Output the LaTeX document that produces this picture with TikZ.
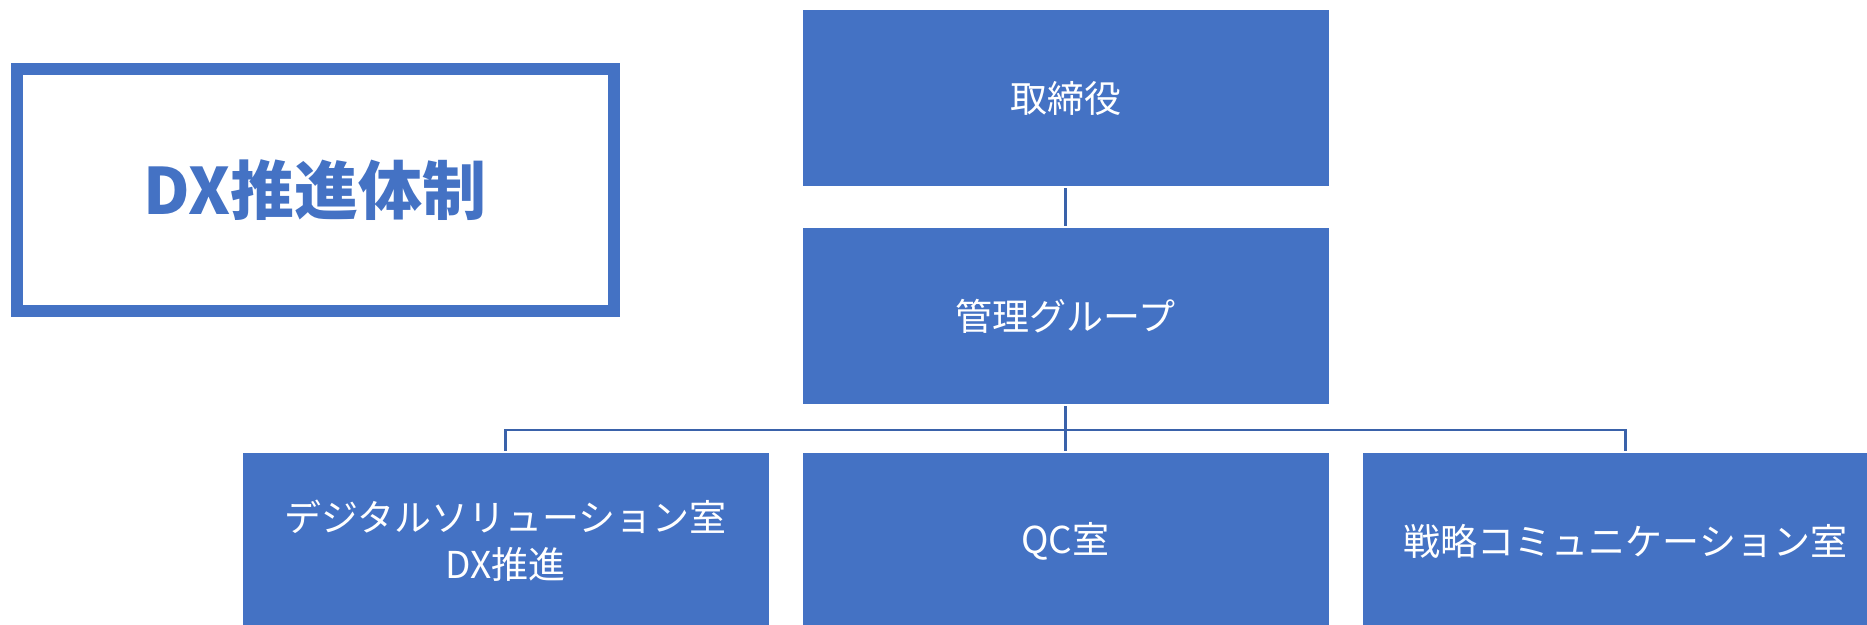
\documentclass[tikz,border=0pt]{standalone}
\usepackage{fontspec}
\newfontfamily\jpfont{Noto Sans CJK JP}
\usetikzlibrary{positioning}
\definecolor{boxblue}{HTML}{4472C4}
\definecolor{lineblue}{HTML}{3A62AA}

\begin{document}
\begin{tikzpicture}[x=1pt,y=-1pt,
  unit/.style = {fill=boxblue, text=white, minimum width=526pt, minimum height=176pt, inner sep=0pt, align=center, font=\jpfont\fontsize{37}{47}\selectfont},
  link/.style = {draw=lineblue, line width=2.5pt, shorten <=2pt, shorten >=2pt},
  node distance={218pt}]
\useasboundingbox (0,0) rectangle (1867,624);
\clip (0,0) rectangle (1867,624);
\node[draw=boxblue, line width=12pt, minimum width=597pt, minimum height=242pt, text=boxblue, font=\jpfont\bfseries\fontsize{64}{66}\selectfont] (title) at (315,190) {DX推進体制};
\node[unit] (board) at (1065.5,98) {取締役};
\node[unit] (mgmt) [below of=board] {管理グループ};
\node[unit] (qc) [below of=mgmt, node distance=225pt] {QC室};
\node[unit] (dsr) [left of=qc, node distance=560pt] {デジタルソリューション室\\DX推進};
\node[unit] (comm) [right of=qc, node distance=560pt] {戦略コミュニケーション室};
\coordinate (bus) at (1065.5,430);
\draw[link] (board) -- (mgmt);
\draw[link] (mgmt) -- (qc);
\draw[link] (dsr) |- (bus) -| (comm);
\end{tikzpicture}
\end{document}
